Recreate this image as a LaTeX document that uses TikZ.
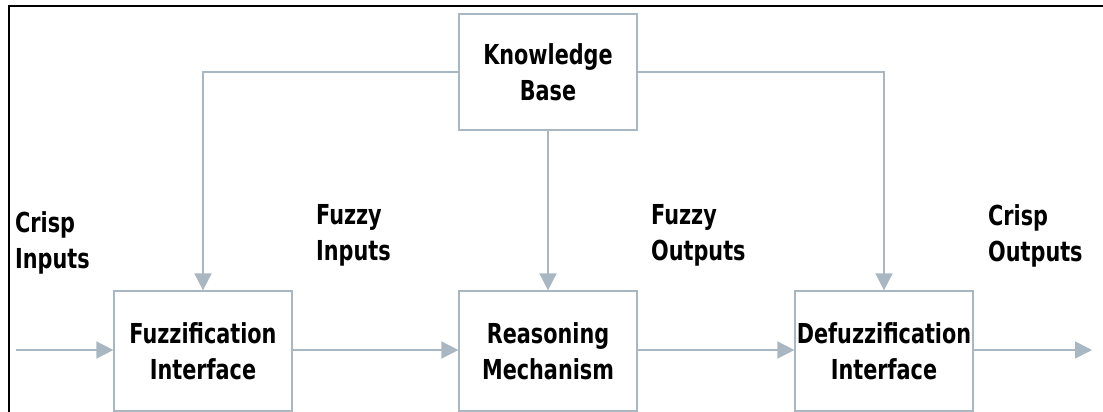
\documentclass[tikz,border=0pt]{standalone}
\usepackage{fontspec}
\setmainfont{DejaVu Sans Condensed}[BoldFont={DejaVu Sans Condensed Bold}, FakeStretch=0.84]
\usetikzlibrary{arrows.meta}
\definecolor{linegray}{HTML}{A8B7C1}
\tikzset{
  block/.style={draw=linegray, line width=1.2pt, fill=white, minimum width=178pt,
    align=center, font=\bfseries\fontsize{27.5}{36}\selectfont, inner sep=0pt},
  flow/.style={draw=linegray, line width=1.6pt, -{Triangle[length=17pt,width=17pt]}},
  lbl/.style={align=left, anchor=north west, inner sep=0pt,
    font=\bfseries\fontsize{27.5}{36}\selectfont},
}
\begin{document}
\begin{tikzpicture}[x=1pt, y=-1pt]
  \useasboundingbox (0,0) rectangle (1103,412);
  % outer frame (top and left edges)
  \draw[line width=2.2pt, black] (9,412) -- (9,6) -- (1103,6);

  % blocks
  \node[block, minimum height=116pt] (kb) at (548,72) {Knowledge\\Base};
  \node[block, minimum height=120pt] (fz) at (203,351) {Fuzzification\\Interface};
  \node[block, minimum height=120pt] (rm) at (548,351) {Reasoning\\Mechanism};
  \node[block, minimum height=120pt] (dz) at (884,351) {Defuzzification\\Interface};

  % input and output ends
  \coordinate (in) at (16,350);
  \coordinate (out) at (1092,350);

  % main chain
  \draw[flow] (in) -- (fz.west |- in);
  \draw[flow] (fz.east |- in) -- (rm.west |- in);
  \draw[flow] (rm.east |- in) -- (dz.west |- in);
  \draw[flow] (dz.east |- in) -- (out);

  % knowledge base feeds
  \draw[flow] (kb.west) -| (fz.north);
  \draw[flow] (kb.south) -- (rm.north);
  \draw[flow] (kb.east) -| (dz.north);

  % labels
  \node[lbl] (ci) at (15,211) {Crisp\\Inputs};
  \node[lbl] (fi) at (316,204) {Fuzzy\\Inputs};
  \node[lbl] (fo) at (651,204) {Fuzzy\\Outputs};
  \node[lbl] (co) at (988,204) {Crisp\\Outputs};
\end{tikzpicture}
\end{document}
